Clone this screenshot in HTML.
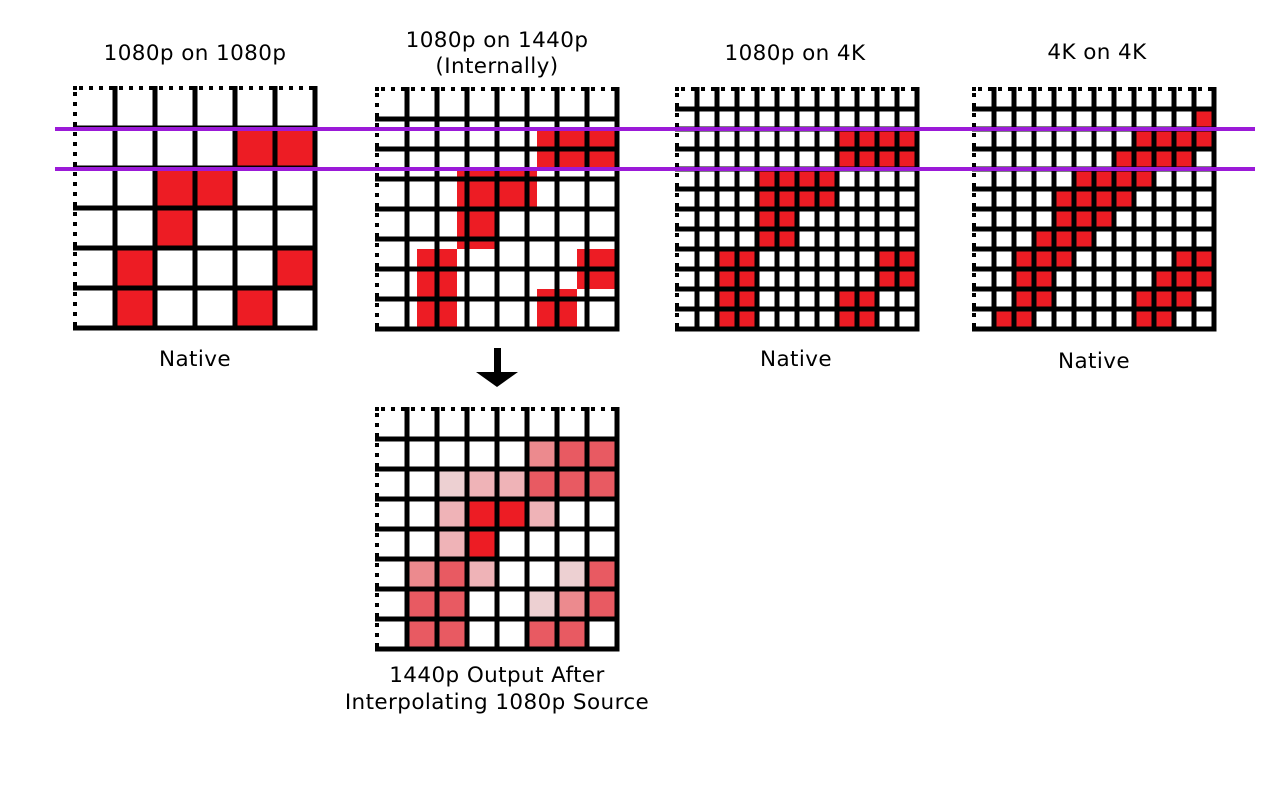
<!DOCTYPE html>
<html><head><meta charset="utf-8">
<style>
html,body{margin:0;padding:0;background:#fff;}
body{width:1280px;height:800px;overflow:hidden;position:relative;}
svg{position:absolute;left:0;top:0;}
text{font-family:"DejaVu Sans","Liberation Sans",sans-serif;font-size:21.5px;letter-spacing:0.4px;fill:#000;text-anchor:middle;}
</style></head>
<body>
<svg id="s" width="1280" height="800" xmlns="http://www.w3.org/2000/svg">
<g id="g"></g>
<text x="195" y="60">1080p on 1080p</text>
<text x="497" y="47">1080p on 1440p</text>
<text x="497" y="73">(Internally)</text>
<text x="795" y="60">1080p on 4K</text>
<text x="1097" y="59">4K on 4K</text>
<text x="195" y="366">Native</text>
<text x="796" y="366">Native</text>
<text x="1094" y="368">Native</text>
<text x="497" y="682">1440p Output After</text>
<text x="497" y="709">Interpolating 1080p Source</text>
<rect x="494" y="348" width="7" height="26" fill="#000"/>
<polygon points="476,372 518,372 497,387" fill="#000"/>
</svg>
<script>
var NS="http://www.w3.org/2000/svg",G=document.getElementById("g");
function R(x,y,w,h,f){var e=document.createElementNS(NS,"rect");e.setAttribute("x",x);e.setAttribute("y",y);e.setAttribute("width",w);e.setAttribute("height",h);e.setAttribute("fill",f);G.appendChild(e);}
var RED="#ed1c24";
function grid(ox,oy,cell,n){
  var L=cell*n;
  for(var k=0;k<n;k++){
    var start=k*cell+4;
    for(var d=start;d<(k+1)*cell-4;d+=10){
      R(ox-2,oy+d,4,4,"#000");
      R(ox+d,oy-2,4,4,"#000");
    }
    R(ox-2,oy-2,4,4,"#000");
  }
  for(var k=1;k<=n;k++){
    R(ox+k*cell-2.5,oy-2,5,L+4.5,"#000");
    R(ox-2,oy+k*cell-2.5,L+4.5,5,"#000");
  }
}
function cellR(ox,oy,cell,r,c,f,inset){inset=inset||2.5;R(ox+c*cell+inset,oy+r*cell+inset,cell-2*inset,cell-2*inset,f);}
var P=[[1,4],[1,5],[2,2],[2,3],[3,2],[4,1],[4,5],[5,1],[5,4]];
P.forEach(function(p){cellR(75,88,40,p[0],p[1],RED);});
P.forEach(function(p){R(377+p[1]*40,89+p[0]*40,40,40,RED);});
P.forEach(function(p){for(var a=0;a<2;a++)for(var b=0;b<2;b++)cellR(677,89,20,p[0]*2+a,p[1]*2+b,RED,2.5);});
var Q={1:[11],2:[8,9,10,11],3:[7,8,9,10],4:[5,6,7,8],5:[4,5,6,7],6:[4,5,6],7:[3,4,5],8:[2,3,4,10,11],9:[2,3,9,10,11],10:[2,3,8,9,10],11:[1,2,8,9]};
for(var r in Q)Q[r].forEach(function(c){cellR(974,89,20,+r,c,RED,2.5);});
var A="#ec8a8e",B="#e85a62",C="#efb3b7",D="#edd0d2";
var F={1:{5:A,6:B,7:B},2:{2:D,3:C,4:C,5:B,6:B,7:B},3:{2:C,3:RED,4:RED,5:C},4:{2:C,3:RED},5:{1:A,2:B,3:C,6:D,7:B},6:{1:B,2:B,5:D,6:A,7:B},7:{1:B,2:B,5:B,6:B}};
for(var r in F)for(var c in F[r])cellR(377,409,30,+r,+c,F[r][c]);
grid(75,88,40,6);
grid(377,89,30,8);
grid(677,89,20,12);
grid(974,89,20,12);
grid(377,409,30,8);
R(55,127,1200,4,"#9b1ad8");
R(55,167,1200,4,"#9b1ad8");
</script>
</body></html>
